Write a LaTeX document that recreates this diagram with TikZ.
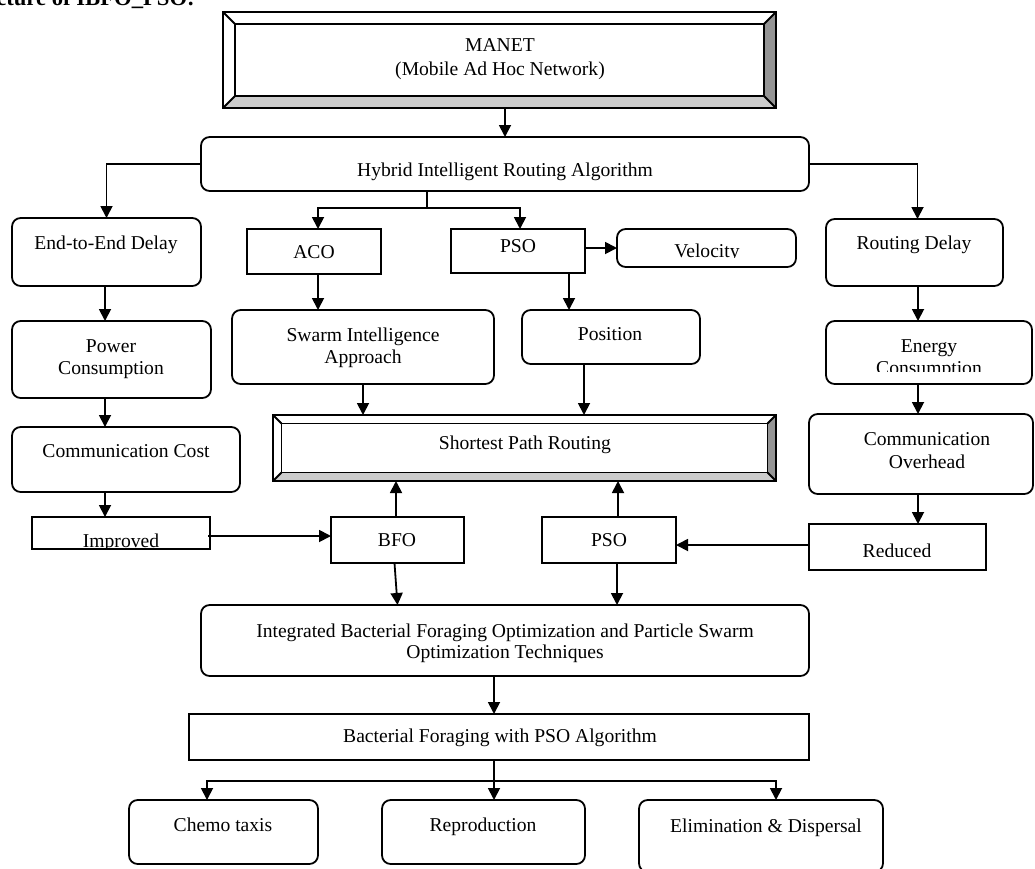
\documentclass[tikz,border=0pt]{standalone}
\usepackage{fontspec}
\setmainfont{Liberation Serif}
\usetikzlibrary{arrows.meta,calc}
\newcommand\bx[6]{\node[#1, minimum width={(#5-#3)*0.75pt}, minimum height={(#6-#4)*0.75pt}] (#2) at ({(#3+#5)/2},{(#4+#6)/2}) {};}
\newcommand\bevel[2]{%
  \path (#1.north west) coordinate (#1-o1) (#1.north east) coordinate (#1-o2)
        (#1.south east) coordinate (#1-o3) (#1.south west) coordinate (#1-o4);
  \path ($(#1-o1)+(#2,#2)$) coordinate (#1-i1) ($(#1-o2)+(-#2,#2)$) coordinate (#1-i2)
        ($(#1-o3)+(-#2,-#2)$) coordinate (#1-i3) ($(#1-o4)+(#2,-#2)$) coordinate (#1-i4);
  \fill[black!42] (#1-o2)--(#1-o3)--(#1-i3)--(#1-i2)--cycle;
  \fill[black!20] (#1-o3)--(#1-o4)--(#1-i4)--(#1-i3)--cycle;
  \draw[ln] (#1-o1) rectangle (#1-o3);
  \draw[ln] (#1-i1) rectangle (#1-i3);
  \draw[ln] (#1-o1)--(#1-i1) (#1-o2)--(#1-i2) (#1-o3)--(#1-i3) (#1-o4)--(#1-i4);
}
\begin{document}
\begin{tikzpicture}[x=0.75pt,y=-0.75pt,
  ln/.style={line width=1.35pt, line join=miter},
  rbox/.style={draw, ln, rounded corners=6.5pt, inner sep=0pt, outer sep=0pt},
  sbox/.style={draw, ln, inner sep=0pt, outer sep=0pt},
  pbox/.style={inner sep=0pt, outer sep=0pt},
  txt/.style={inner sep=0pt, anchor=base, font=\fontsize{14.7}{17}\selectfont},
  arr/.style={ln, -{Triangle[length=9pt,width=9pt]}}]
\useasboundingbox (0,0) rectangle (1035,868);

% title (clipped at top)
\begin{scope}
  \clip (0,0) rectangle (400,30);
  \node[txt, anchor=base west, font=\bfseries\fontsize{17}{20}\selectfont] (title) at (-4,5) {cture of IBFO\_PSO:};
\end{scope}

% boxes
\bx{pbox}{manet}{223}{12}{776}{108}
\bevel{manet}{12}
\bx{rbox}{hyb}{201}{137}{809}{191}
\bx{rbox}{e2e}{12}{218}{201}{286}
\bx{sbox}{aco}{247}{229}{381}{274}
\bx{sbox}{pso}{451}{229}{585}{273}
\bx{rbox}{vel}{617}{229}{796}{267}
\bx{rbox}{rdel}{826}{219}{1003}{286}
\bx{rbox}{pow}{12}{321}{211}{398}
\bx{rbox}{swarm}{232}{310}{494}{384}
\bx{rbox}{pos}{522}{310}{700}{364}
\bx{rbox}{en}{826}{321}{1032}{384}
\bx{rbox}{ccost}{12}{427}{240}{492}
\bx{pbox}{sp}{273}{415}{776}{481}
\bevel{sp}{8.5}
\bx{rbox}{cover}{809}{414}{1033}{494}
\bx{sbox}{imp}{32}{517}{210}{549}
\bx{sbox}{bfo}{331}{517}{464}{563}
\bx{sbox}{psob}{542}{517}{676}{563}
\bx{sbox}{red}{809}{524}{986}{570}
\bx{rbox}{integ}{201}{605}{809}{676}
\bx{sbox}{bac}{189}{714}{809}{760}
\bx{rbox}{chemo}{129}{800}{318}{864}
\bx{rbox}{repro}{382}{800}{585}{864}
\bx{rbox}{elim}{639}{800}{883}{872}

% texts
\node[txt] (t-manet1) at (500,51) {MANET};
\node[txt] (t-manet2) at (500,75) {(Mobile Ad Hoc Network)};
\node[txt] (t-hyb) at (505,176) {Hybrid Intelligent Routing Algorithm};
\node[txt] (t-e2e) at (106,249) {End-to-End Delay};
\node[txt] (t-aco) at (314,258) {ACO};
\node[txt] (t-pso) at (518,252) {PSO};
\begin{scope}
  \clip (617,229) rectangle (796,257);
  \node[txt] (t-vel) at (707,257) {Velocity};
\end{scope}
\node[txt] (t-rdel) at (914,249) {Routing Delay};
\node[txt] (t-pow1) at (111,352) {Power};
\node[txt] (t-pow2) at (111,374) {Consumption};
\node[txt] (t-sw1) at (363,341) {Swarm Intelligence};
\node[txt] (t-sw2) at (363,363) {Approach};
\node[txt] (t-pos) at (610,340) {Position};
\node[txt] (t-en1) at (929,352) {Energy};
\begin{scope}
  \clip (826,321) rectangle (1032,371);
  \node[txt] (t-en2) at (929,374) {Consumption};
\end{scope}
\node[txt] (t-cc) at (126,457) {Communication Cost};
\node[txt] (t-sp) at (525,449) {Shortest Path Routing};
\node[txt] (t-co1) at (927,445) {Communication};
\node[txt] (t-co2) at (927,468) {Overhead};
\begin{scope}
  \clip (32,517) rectangle (210,548);
  \node[txt] (t-imp) at (121,547) {Improved};
\end{scope}
\node[txt] (t-bfo) at (397,546) {BFO};
\node[txt] (t-psob) at (609,546) {PSO};
\begin{scope}
  \clip (809,524) rectangle (986,556);
  \node[txt] (t-red) at (897,557) {Reduced};
\end{scope}
\node[txt] (t-in1) at (505,637) {Integrated Bacterial Foraging Optimization and Particle Swarm};
\node[txt] (t-in2) at (505,658) {Optimization Techniques};
\node[txt] (t-bac) at (500,742) {Bacterial Foraging with PSO Algorithm};
\node[txt] (t-ch) at (223,831) {Chemo taxis};
\node[txt] (t-re) at (483,831) {Reproduction};
\node[txt] (t-el) at (766,832) {Elimination \& Dispersal};

% connectors
\draw[arr] (manet.south -| hyb.north) -- (hyb.north);
\draw[arr] (hyb.west) -| (e2e.north);
\draw[arr] (hyb.east) -| ($(rdel.north)+(3,0)$);
\coordinate (split) at (427,208);
\draw[ln] (hyb.south -| split) -- (split);
\draw[arr] (split) -| ($(aco.north)+(4,0)$);
\draw[arr] (split) -| ($(pso.north)+(2,0)$);
\draw[arr] (pso.east |- vel.west) -- (vel.west);
\coordinate (cx1) at (105,0);
\draw[arr] (e2e.south -| cx1) -- (pow.north -| cx1);
\draw[arr] (pow.south -| cx1) -- (ccost.north -| cx1);
\draw[arr] (ccost.south -| cx1) -- (imp.north -| cx1);
\draw[arr] ($(aco.south)+(4,0)$) -- ($(aco.south |- swarm.north)+(4,0)$);
\coordinate (cx2) at (569,0);
\draw[arr] (pso.south -| cx2) -- (pos.north -| cx2);
\coordinate (cx3) at (918,0);
\draw[arr] (rdel.south -| cx3) -- (en.north -| cx3);
\draw[arr] (en.south -| cx3) -- (cover.north -| cx3);
\draw[arr] (cover.south -| cx3) -- (red.north -| cx3);
\draw[arr] (swarm.south) -- (swarm.south |- sp.north);
\coordinate (cx4) at (584,0);
\draw[arr] (pos.south -| cx4) -- (sp.north -| cx4);
\coordinate (ya) at (0,536);
\draw[arr] ($(imp.east |- ya)+(-2,0)$) -- (bfo.west |- ya);
\coordinate (yb) at (0,545);
\draw[arr] (red.west |- yb) -- (psob.east |- yb);
\coordinate (cx5) at (396,0);
\draw[arr] (bfo.north -| cx5) -- (sp.south -| cx5);
\coordinate (cx6) at (618,0);
\draw[arr] (psob.north -| cx6) -- (sp.south -| cx6);
\draw[arr] ($(bfo.south)+(-3,0)$) -- (bfo.south |- integ.north);
\coordinate (cx7) at (617,0);
\draw[arr] (psob.south -| cx7) -- (integ.north -| cx7);
\coordinate (bus) at (494,781);
\draw[arr] (integ.south -| bus) -- (bac.north -| bus);
\draw[ln] (bac.south -| bus) -- (bus);
\coordinate (c1) at (207,0);
\coordinate (c3) at (776,0);
\draw[arr] (bus) -| (chemo.north -| c1);
\draw[arr] (bus) -- (repro.north -| bus);
\draw[arr] (bus) -| (elim.north -| c3);
\end{tikzpicture}
\end{document}
